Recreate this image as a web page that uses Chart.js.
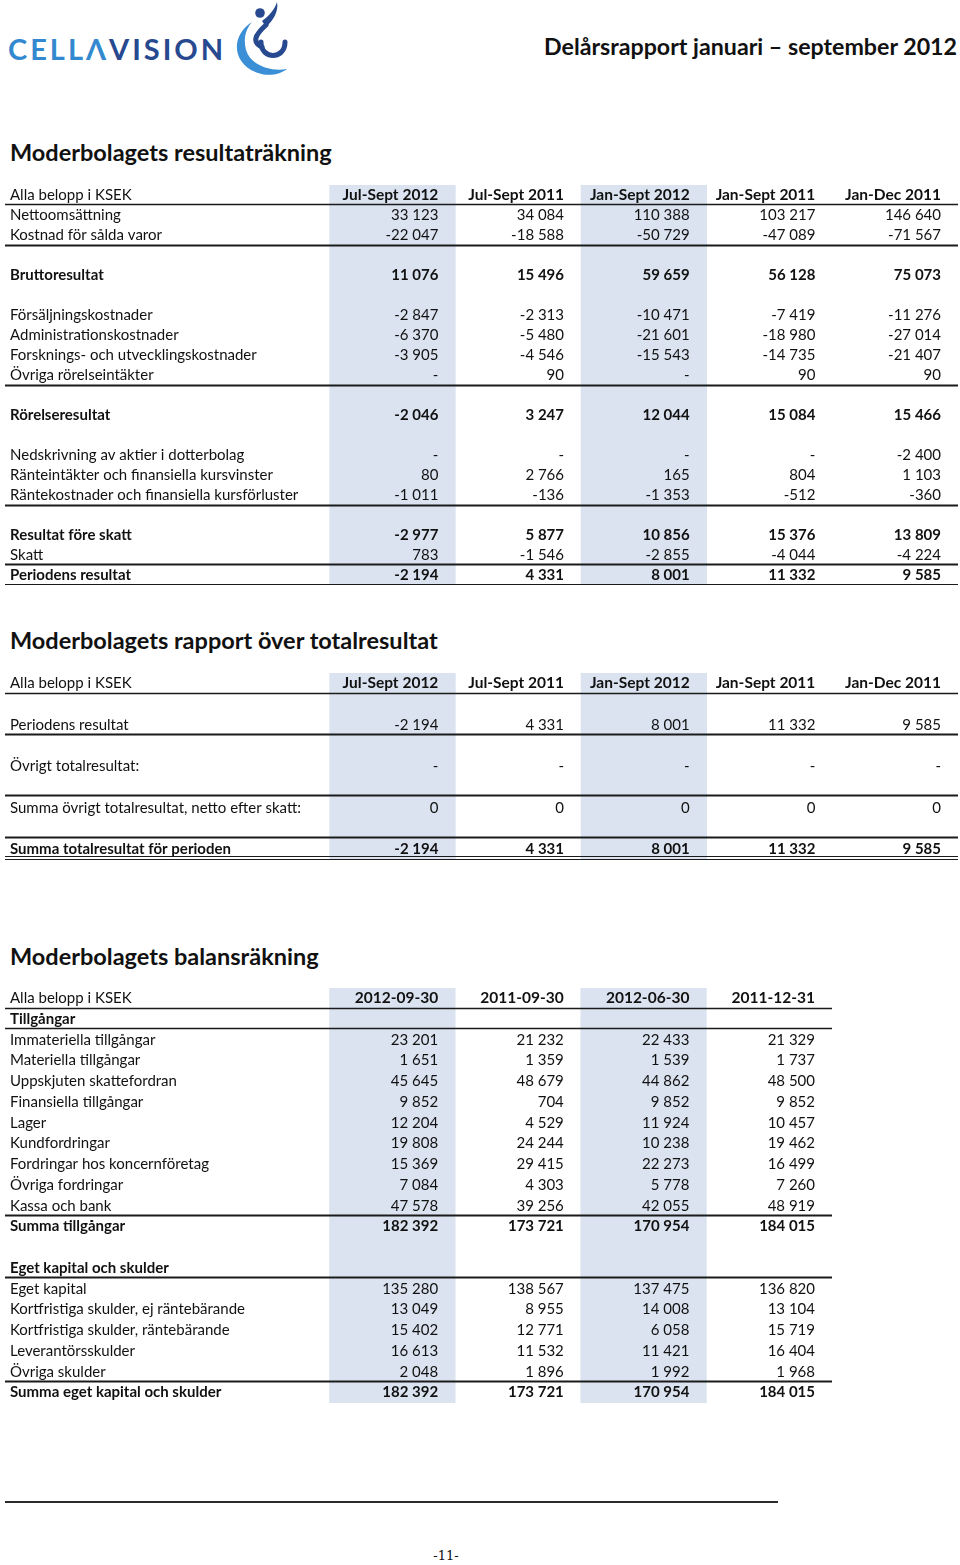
<!DOCTYPE html>
<html lang="sv">
<head>
<meta charset="utf-8">
<title>Moderbolagets resultaträkning</title>
<script src="https://cdn.jsdelivr.net/npm/chart.js@4.4.1/dist/chart.umd.min.js"></script>
<style>
  html, body { margin: 0; padding: 0; background: #fff; }
  body { width: 960px; height: 1565px; position: relative; overflow: hidden; font-family: Lato, "Noto Sans", sans-serif; color: #111; }
  canvas { position: absolute; }
  .rubrik { position: absolute; left: 10px; margin: 0; font-size: 23.5px; font-weight: 700; line-height: 28px; white-space: nowrap; }
  #logo { position: absolute; left: 8px; top: 29px; font-size: 29px; font-weight: 700; letter-spacing: 3px; line-height: 40px; }
  #logo .ljus { color: #3389d0; }
  #logo .mork { color: #27498f; }
  #swirl { position: absolute; left: 228px; top: 0; }
  #rapport { position: absolute; right: 3px; top: 31px; font-size: 23.2px; font-weight: 700; line-height: 30px; white-space: nowrap; }
  #fot { position: absolute; left: 5px; top: 1501px; width: 773px; height: 2px; background: #2b2b2b; }
  #sida { position: absolute; left: 0; width: 892px; top: 1548px; text-align: center; font-family: "DejaVu Serif", "Liberation Serif", serif; font-size: 13px; }
</style>
</head>
<body>
<div id="logo"><span class="ljus">CELLΛ</span><span class="mork">VISION</span></div>
<svg id="swirl" width="64" height="80" viewBox="228 0 64 80">
  <path d="M252 22 C230 36 232 64 258 73 C269 77 281 74 287 69 C272 72 251 66 246 50 C243 38 246 29 252 22 Z" fill="#3a8fd6"/>
  <circle cx="260" cy="13" r="4.8" fill="#27498f"/>
  <path d="M262 21 C269 16 275 9 277 2 C279 11 273 21 266 27 Z" fill="#27498f"/>
  <path d="M266 25 C256 34 251 42 262 47" fill="none" stroke="#27498f" stroke-width="5" stroke-linecap="round"/>
  <path d="M261 42 C261 60 285 60 285 42" fill="none" stroke="#27498f" stroke-width="5" stroke-linecap="round"/>
</svg>
<div id="rapport">Delårsrapport januari – september 2012</div>

<h2 class="rubrik" style="top:138px">Moderbolagets resultaträkning</h2>
<canvas id="resultat" width="953" height="400" style="left:5px; top:185px"></canvas>

<h2 class="rubrik" style="top:626px">Moderbolagets rapport över totalresultat</h2>
<canvas id="totalresultat" width="953" height="187" style="left:5px; top:673px"></canvas>

<h2 class="rubrik" style="top:942px">Moderbolagets balansräkning</h2>
<canvas id="balans" width="827" height="415" style="left:5px; top:988px"></canvas>

<div id="fot"></div>
<div id="sida">-11-</div>

<script>
// Resultaträkning (KSEK)
var resHeaders = ['Jul-Sept 2012', 'Jul-Sept 2011', 'Jan-Sept 2012', 'Jan-Sept 2011', 'Jan-Dec 2011'];
var resRows = ['Nettoomsättning', 'Kostnad för sålda varor', '', 'Bruttoresultat', '',
  'Försäljningskostnader', 'Administrationskostnader', 'Forsknings- och utvecklingskostnader', 'Övriga rörelseintäkter', '',
  'Rörelseresultat', '', 'Nedskrivning av aktier i dotterbolag', 'Ränteintäkter och finansiella kursvinster',
  'Räntekostnader och finansiella kursförluster', '', 'Resultat före skatt', 'Skatt', 'Periodens resultat'];
var resJulSep12 = [33123, -22047, null, 11076, null, -2847, -6370, -3905, '-', null, -2046, null, '-', 80, -1011, null, -2977, 783, -2194];
var resJulSep11 = [34084, -18588, null, 15496, null, -2313, -5480, -4546, 90, null, 3247, null, '-', 2766, -136, null, 5877, -1546, 4331];
var resJanSep12 = [110388, -50729, null, 59659, null, -10471, -21601, -15543, '-', null, 12044, null, '-', 165, -1353, null, 10856, -2855, 8001];
var resJanSep11 = [103217, -47089, null, 56128, null, -7419, -18980, -14735, 90, null, 15084, null, '-', 804, -512, null, 15376, -4044, 11332];
var resJanDec11 = [146640, -71567, null, 75073, null, -11276, -27014, -21407, 90, null, 15466, null, -2400, 1103, -360, null, 13809, -4224, 9585];
var resBold = ['Bruttoresultat', 'Rörelseresultat', 'Resultat före skatt', 'Periodens resultat'];

// Rapport över totalresultat
var totRows = ['', 'Periodens resultat', '', 'Övrigt totalresultat:', '', 'Summa övrigt totalresultat, netto efter skatt:', '', 'Summa totalresultat för perioden'];
var totJulSep12 = [null, -2194, null, '-', null, 0, null, -2194];
var totJulSep11 = [null, 4331, null, '-', null, 0, null, 4331];
var totJanSep12 = [null, 8001, null, '-', null, 0, null, 8001];
var totJanSep11 = [null, 11332, null, '-', null, 0, null, 11332];
var totJanDec11 = [null, 9585, null, '-', null, 0, null, 9585];
var totBold = ['Summa totalresultat för perioden'];

// Balansräkning
var balHeaders = ['2012-09-30', '2011-09-30', '2012-06-30', '2011-12-31'];
var balRows = ['Tillgångar', 'Immateriella tillgångar', 'Materiella tillgångar', 'Uppskjuten skattefordran', 'Finansiella tillgångar',
  'Lager', 'Kundfordringar', 'Fordringar hos koncernföretag', 'Övriga fordringar', 'Kassa och bank', 'Summa tillgångar', '',
  'Eget kapital och skulder', 'Eget kapital', 'Kortfristiga skulder, ej räntebärande', 'Kortfristiga skulder, räntebärande',
  'Leverantörsskulder', 'Övriga skulder', 'Summa eget kapital och skulder'];
var bal20120930 = [null, 23201, 1651, 45645, 9852, 12204, 19808, 15369, 7084, 47578, 182392, null, null, 135280, 13049, 15402, 16613, 2048, 182392];
var bal20110930 = [null, 21232, 1359, 48679, 704, 4529, 24244, 29415, 4303, 39256, 173721, null, null, 138567, 8955, 12771, 11532, 1896, 173721];
var bal20120630 = [null, 22433, 1539, 44862, 9852, 11924, 10238, 22273, 5778, 42055, 170954, null, null, 137475, 14008, 6058, 11421, 1992, 170954];
var bal20111231 = [null, 21329, 1737, 48500, 9852, 10457, 19462, 16499, 7260, 48919, 184015, null, null, 136820, 13104, 15719, 16404, 1968, 184015];
var balBold = ['Tillgångar', 'Summa tillgångar', 'Eget kapital och skulder', 'Summa eget kapital och skulder'];

// markerade kolumner (index i kolumnlistan)
var shadedCols = [0, 2];

var FONT_N = '15px Lato, "Noto Sans", sans-serif';
var FONT_B = 'bold 15px Lato, "Noto Sans", sans-serif';
var FONT_H = 'bold 15.5px Lato, "Noto Sans", sans-serif';

function fmt(v) {
  if (typeof v !== 'number') return v;
  var s = Math.abs(v).toString().replace(/\B(?=(\d{3})+(?!\d))/g, ' ');
  return (v < 0 ? '-' : '') + s;
}

// ritar text och linjer i tabellen via skalorna
var cellText = {
  id: 'cellText',
  afterDatasetsDraw: function(chart, args, o) {
    var ctx = chart.ctx, area = chart.chartArea;
    var x = chart.scales.x, y = chart.scales.y;
    ctx.save();
    ctx.strokeStyle = '#1b1b1b';
    o.rules.forEach(function(r) {
      var py = Math.round(y.getPixelForValue(r.at)) + 0.5;
      ctx.lineWidth = r.w || 1.6;
      ctx.beginPath();
      ctx.moveTo(area.left, py);
      ctx.lineTo(area.right, py);
      ctx.stroke();
    });

    ctx.fillStyle = '#111';
    ctx.textBaseline = 'middle';
    var lx = area.left + 5;
    ctx.font = FONT_N;
    ctx.textAlign = 'left';
    ctx.fillText('Alla belopp i KSEK', lx, y.getPixelForValue(0));
    ctx.font = FONT_H;
    ctx.textAlign = 'right';
    o.headers.forEach(function(h, j) {
      ctx.fillText(h, x.getPixelForValue(j + 0.5) - 17, y.getPixelForValue(0));
    });

    o.rows.forEach(function(label, k) {
      var py = y.getPixelForValue(k + 1);
      ctx.font = o.bold.indexOf(label) >= 0 ? FONT_B : FONT_N;
      ctx.textAlign = 'left';
      ctx.fillText(label, lx, py);
      ctx.textAlign = 'right';
      o.columns.forEach(function(col, j) {
        var v = col[k];
        if (v === null || v === undefined) return;
        ctx.fillText(fmt(v), x.getPixelForValue(j + 0.5) - 17, py);
      });
    });
    ctx.restore();
  }
};

function makeTable(id, headers, rows, columns, bold, rules) {
  var nRows = rows.length + 1;
  var nCols = columns.length;
  var ctx = document.getElementById(id).getContext('2d');
  return new Chart(ctx, {
    type: 'bar',
    data: {
      datasets: [{
        data: shadedCols.map(function(c) { return { x: c, y: [-0.5, nRows - 0.5] }; }),
        backgroundColor: '#dbe3f0',
        borderWidth: 0,
        categoryPercentage: 1,
        barPercentage: 1
      }]
    },
    options: {
      responsive: false,
      animation: false,
      events: [],
      layout: { padding: 0 },
      plugins: {
        legend: { display: false },
        tooltip: { enabled: false },
        cellText: { headers: headers, rows: rows, columns: columns, bold: bold, rules: rules }
      },
      scales: {
        x: {
          type: 'linear', display: false, offset: false, grid: { offset: false },
          min: -3.084, max: nCols - 0.5,
          ticks: { stepSize: 1, includeBounds: false }
        },
        y: { type: 'linear', display: false, reverse: true, min: -0.5, max: nRows - 0.5 }
      }
    },
    plugins: [cellText]
  });
}

makeTable('resultat', resHeaders, resRows,
  [resJulSep12, resJulSep11, resJanSep12, resJanSep11, resJanDec11], resBold,
  [{ at: 0.45 }, { at: 2.5, w: 2 }, { at: 9.5, w: 2 }, { at: 15.5, w: 2 }, { at: 18.45, w: 1.8 }, { at: 19.45, w: 1.2 }, { at: 19.6, w: 1.2 }]);

makeTable('totalresultat', resHeaders, totRows,
  [totJulSep12, totJulSep11, totJanSep12, totJanSep11, totJanDec11], totBold,
  [{ at: 0.45 }, { at: 2.45, w: 1.8 }, { at: 5.35, w: 1.8 }, { at: 7.4, w: 1.8 }, { at: 8.3, w: 1.2 }, { at: 8.45, w: 1.2 }]);

makeTable('balans', balHeaders, balRows,
  [bal20120930, bal20110930, bal20120630, bal20111231], balBold,
  [{ at: 0.45 }, { at: 1.45 }, { at: 10.45, w: 1.8 }, { at: 13.45, w: 1.8 }, { at: 18.45, w: 1.8 }]);
</script>
</body>
</html>
